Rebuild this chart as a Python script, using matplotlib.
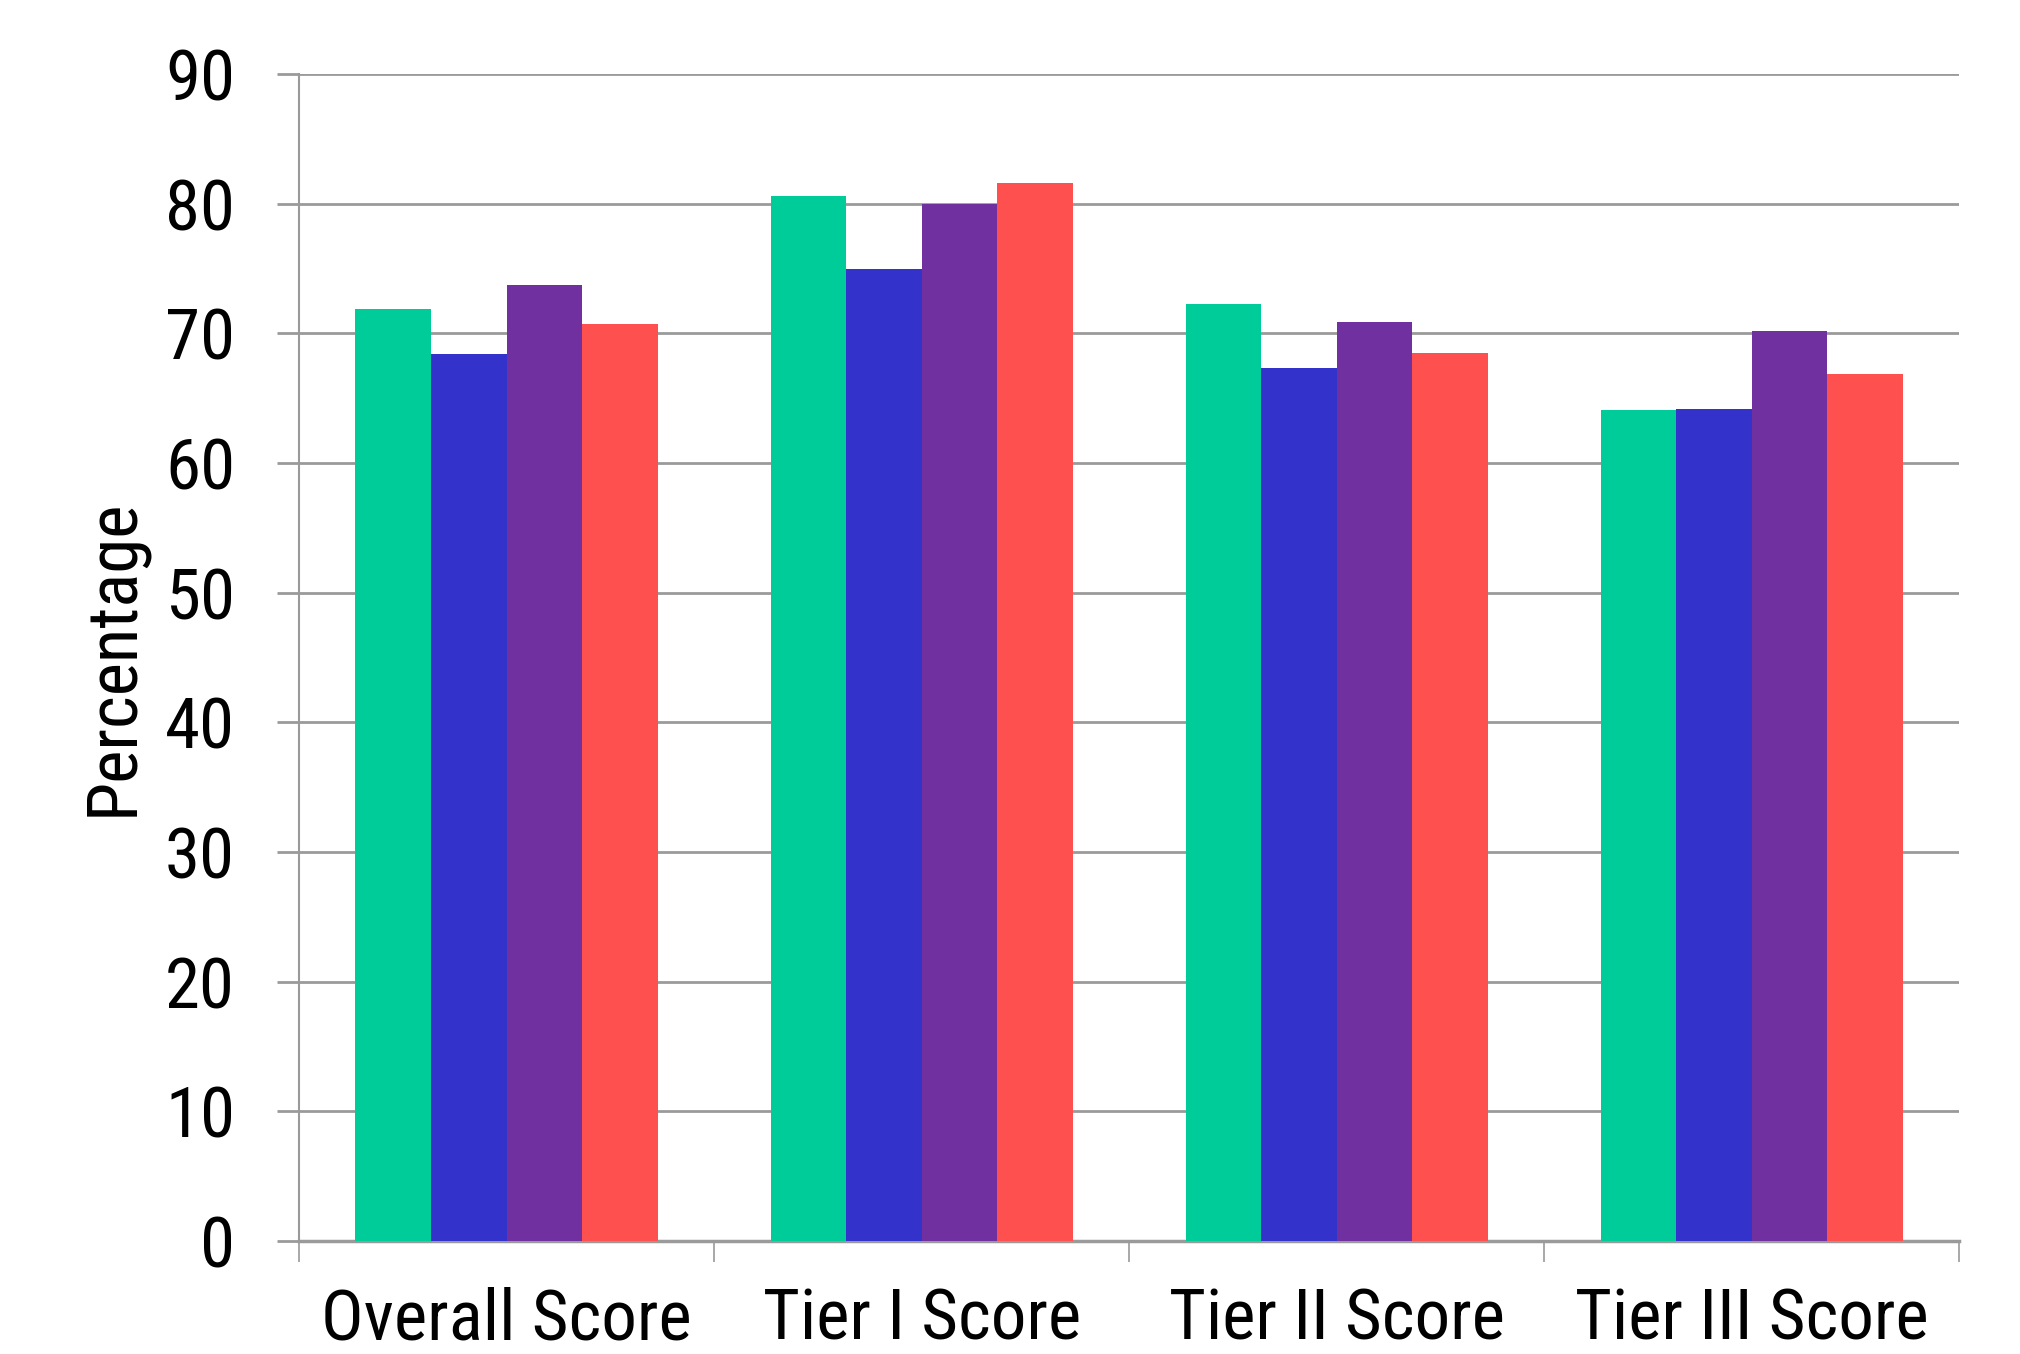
import matplotlib
matplotlib.use("Agg")
import matplotlib.pyplot as plt
from matplotlib import font_manager as fm
import numpy as np

categories = ["Overall Score", "Tier I Score", "Tier II Score", "Tier III Score"]
series_names = ["Series 1", "Series 2", "Series 3", "Series 4"]
series_1 = [71.9, 80.6, 72.3, 64.1]
series_2 = [68.4, 75.0, 67.3, 64.2]
series_3 = [73.7, 80.0, 70.9, 70.2]
series_4 = [70.7, 81.6, 68.5, 66.9]
colors = ["#00CC99", "#3333CC", "#7030A0", "#FF5050"]
y_ticks = [0, 10, 20, 30, 40, 50, 60, 70, 80, 90]

# pick a condensed sans-serif font if one is installed
def pick_font():
    entries = fm.fontManager.ttflist
    preferred = ["Liberation Sans Narrow", "Roboto Condensed", "Open Sans Condensed",
                 "DejaVu Sans Condensed", "Noto Sans Condensed", "Arial Narrow"]
    for name in preferred:
        for f in entries:
            if f.name == name and f.weight in (400, "normal", "regular") and f.style == "normal":
                return fm.FontProperties(fname=f.fname)
    for f in entries:
        st = str(f.stretch).lower()
        if (("condensed" in st and "extra" not in st and "ultra" not in st) or "Narrow" in f.name
                or "Condensed" in f.name) and f.style == "normal" and f.weight in (400, "normal", "regular") \
                and "Mono" not in f.name and "Serif" not in f.name:
            return fm.FontProperties(fname=f.fname)
    return None

fp_base = pick_font()
condensed = fp_base is not None
if fp_base is None:
    fp_base = fm.FontProperties(family="Liberation Sans")

size = 51 if condensed else 40
fp = fp_base.copy()
fp.set_size(size)

fig = plt.figure(figsize=(20.2, 13.54), dpi=100)
ax = fig.add_axes([0.148, 0.0835, 0.822, 0.8618])

x = np.arange(len(categories))
w = 0.182
all_series = [series_1, series_2, series_3, series_4]
for i, (vals, c, n) in enumerate(zip(all_series, colors, series_names)):
    ax.bar(x + (i - 1.5) * w, vals, width=w, color=c, label=n, zorder=3, linewidth=0)

ax.set_xlim(-0.5, len(categories) - 0.5)
ax.set_ylim(0, 90)
ax.set_yticks(y_ticks)
ax.set_yticklabels([str(t) for t in y_ticks], fontproperties=fp)
ax.yaxis.grid(True, color="#9a9a9a", linewidth=2, zorder=0)
ax.tick_params(axis='y', length=16, width=2, color="#9a9a9a", pad=30)

ax.set_xticks(x)
ax.set_xticklabels(categories, fontproperties=fp)
ax.set_xticks(np.arange(-0.5, len(categories)), minor=True)
ax.tick_params(axis='x', which='major', length=0, pad=33)
ax.tick_params(axis='x', which='minor', length=15, width=1.2, color="#9a9a9a")

for s in ['top', 'right']:
    ax.spines[s].set_visible(False)
ax.spines['left'].set_color("#9a9a9a")
ax.spines['left'].set_linewidth(1.5)
ax.spines['bottom'].set_color("#9a9a9a")
ax.spines['bottom'].set_linewidth(2.5)

ax.set_ylabel("Percentage", fontproperties=fp, labelpad=13)

fig.savefig("out.png", dpi=100)
